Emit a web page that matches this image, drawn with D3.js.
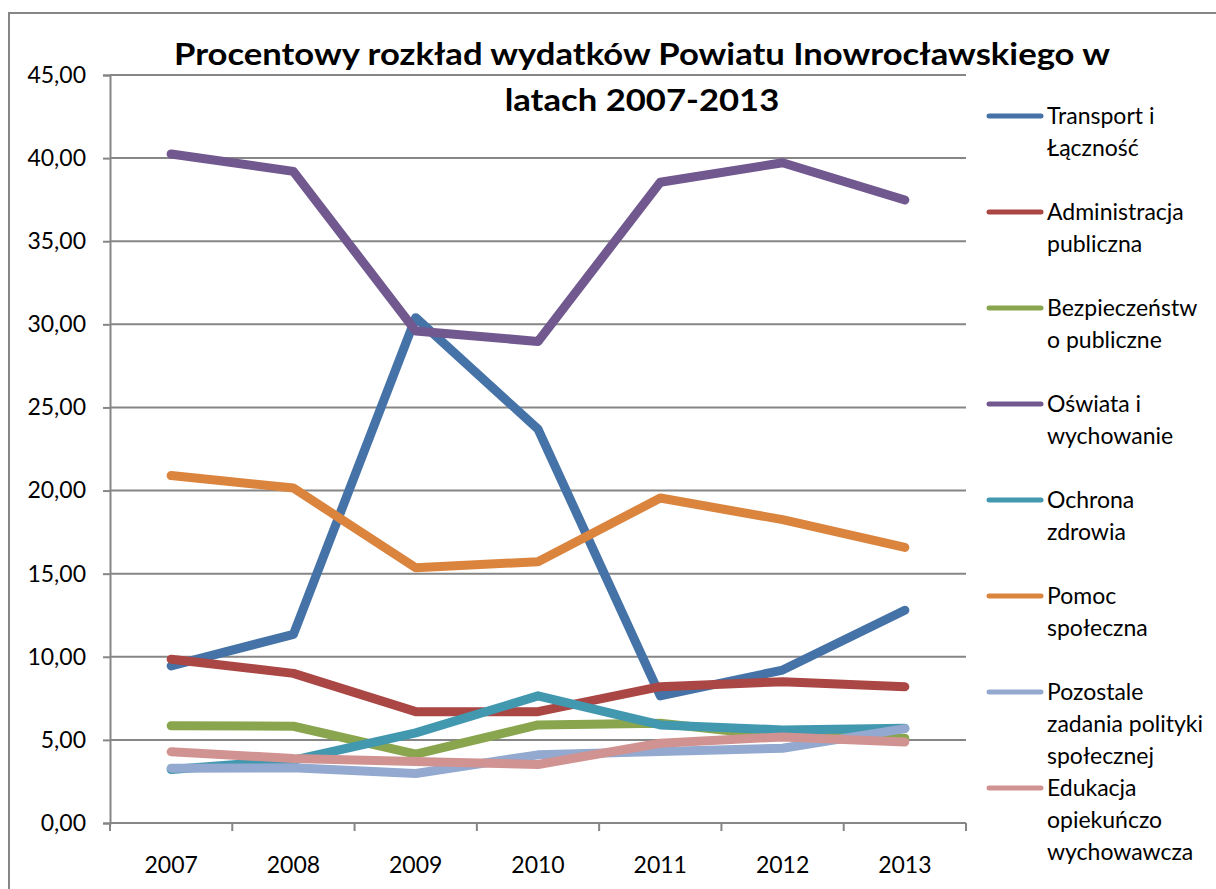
<!DOCTYPE html>
<html>
<head>
<meta charset="utf-8">
<script src="https://cdn.jsdelivr.net/npm/d3@7/dist/d3.min.js"></script>
<style>
  html, body { margin: 0; padding: 0; background: #fff; }
  svg { display: block; }
  text { font-family: Lato, "Open Sans", sans-serif; fill: #000; }
</style>
</head>
<body>
<svg id="chart" width="1216" height="889"></svg>
<script>
// Years on the category axis
const years = ["2007", "2008", "2009", "2010", "2011", "2012", "2013"];

// Share of total expenditure (%) per budget section
const transport      = [9.45, 11.35, 30.4, 23.7, 7.65, 9.2, 12.8];
const administracja  = [9.85, 9.0, 6.7, 6.7, 8.2, 8.5, 8.2];
const bezpieczenstwo = [5.85, 5.82, 4.15, 5.9, 6.0, 5.2, 5.1];
const oswiata        = [40.25, 39.2, 29.6, 28.97, 38.55, 39.72, 37.48];
const ochrona        = [3.22, 3.78, 5.42, 7.65, 5.9, 5.6, 5.7];
const pomoc          = [20.9, 20.15, 15.36, 15.72, 19.55, 18.25, 16.58];
const pozostale      = [3.3, 3.32, 2.98, 4.1, 4.3, 4.5, 5.68];
const edukacja       = [4.28, 3.88, 3.7, 3.52, 4.8, 5.18, 4.88];

const seriesNames = [
  ["Transport i", "Łączność"],
  ["Administracja", "publiczna"],
  ["Bezpieczeństw", "o publiczne"],
  ["Oświata i", "wychowanie"],
  ["Ochrona", "zdrowia"],
  ["Pomoc", "społeczna"],
  ["Pozostale", "zadania polityki", "społecznej"],
  ["Edukacja", "opiekuńczo", "wychowawcza"]
];
const seriesValues = [transport, administracja, bezpieczenstwo, oswiata, ochrona, pomoc, pozostale, edukacja];
const seriesColors = ["#4572A7", "#AA4643", "#89A54E", "#71588F", "#4198AF", "#DB843D", "#93A9CF", "#D19392"];

const yTicks = [0, 5, 10, 15, 20, 25, 30, 35, 40, 45];
const titleLines = ["Procentowy rozkład wydatków Powiatu Inowrocławskiego w", "latach 2007-2013"];

const svg = d3.select("#chart");
const gridColor = "#868686";

// Outer chart frame
svg.append("rect")
  .attr("x", 9).attr("y", 13)
  .attr("width", 1400).attr("height", 1000)
  .attr("fill", "#fff")
  .attr("stroke", gridColor).attr("stroke-width", 2);

const plot = { left: 110, right: 966, top: 75, bottom: 823 };

const x = d3.scaleBand().domain(years).range([plot.left, plot.right]);
const y = d3.scaleLinear().domain([0, 45]).range([plot.bottom, plot.top]);

// Horizontal gridlines
svg.append("g").selectAll("line")
  .data(yTicks.filter(d => d > 0))
  .join("line")
  .attr("x1", plot.left).attr("x2", plot.right)
  .attr("y1", d => y(d)).attr("y2", d => y(d))
  .attr("stroke", gridColor).attr("stroke-width", 2);

// Y axis
const yAxis = svg.append("g")
  .attr("transform", `translate(${plot.left},0)`)
  .call(d3.axisLeft(y).tickValues(yTicks).tickSize(7).tickPadding(17)
    .tickFormat(d => d3.format(".2f")(d).replace(".", ",")));
yAxis.select(".domain").attr("stroke", gridColor).attr("stroke-width", 2);
yAxis.selectAll(".tick line").attr("stroke", gridColor).attr("stroke-width", 2);
yAxis.selectAll(".tick text")
  .attr("font-size", 23).attr("font-family", "Lato, sans-serif").attr("fill", "#000");

// X axis: ticks on category boundaries, labels centred in each band
const xg = svg.append("g").attr("transform", `translate(0,${plot.bottom})`);
xg.append("line")
  .attr("x1", plot.left).attr("x2", plot.right)
  .attr("stroke", gridColor).attr("stroke-width", 2);
const boundaries = years.map(d => x(d)).concat([plot.right]);
xg.selectAll("line.tk")
  .data(boundaries)
  .join("line").attr("class", "tk")
  .attr("x1", d => d).attr("x2", d => d)
  .attr("y1", 0).attr("y2", 8)
  .attr("stroke", gridColor).attr("stroke-width", 2);
xg.selectAll("text")
  .data(years)
  .join("text")
  .attr("x", d => x(d) + x.bandwidth() / 2)
  .attr("y", 50)
  .attr("text-anchor", "middle")
  .attr("font-size", 23)
  .text(d => d);

// Series lines
const line = d3.line()
  .x((d, i) => x(years[i]) + x.bandwidth() / 2)
  .y(d => y(d));

svg.append("g").selectAll("path")
  .data(seriesValues)
  .join("path")
  .attr("d", d => line(d))
  .attr("fill", "none")
  .attr("stroke", (d, i) => seriesColors[i])
  .attr("stroke-width", 9)
  .attr("stroke-linejoin", "round")
  .attr("stroke-linecap", "round");

// Title, stretched so the first line spans the same width as the plot heading
const title = svg.append("g");
const titleText = title.selectAll("text")
  .data(titleLines)
  .join("text")
  .attr("x", 642)
  .attr("y", (d, i) => 65 + i * 46)
  .attr("text-anchor", "middle")
  .attr("font-size", 30)
  .attr("font-weight", "bold")
  .text(d => d);
const natural = titleText.nodes().map(n => n.getComputedTextLength());
const stretch = 936 / natural[0];
titleText
  .attr("textLength", (d, i) => natural[i] * stretch)
  .attr("lengthAdjust", "spacingAndGlyphs");

// Legend
const legend = svg.append("g");
const entries = legend.selectAll("g")
  .data(seriesNames)
  .join("g")
  .attr("transform", (d, i) => `translate(0,${116 + i * 96})`);
entries.append("line")
  .attr("x1", 989).attr("x2", 1041)
  .attr("stroke", (d, i) => seriesColors[i])
  .attr("stroke-width", 5)
  .attr("stroke-linecap", "round");
entries.each(function(lines) {
  const t = d3.select(this).append("text")
    .attr("x", 1047).attr("y", 8)
    .attr("font-size", 23);
  t.selectAll("tspan")
    .data(lines)
    .join("tspan")
    .attr("x", 1047)
    .attr("dy", (d, i) => i === 0 ? 0 : 32)
    .text(d => d);
});
</script>
</body>
</html>
